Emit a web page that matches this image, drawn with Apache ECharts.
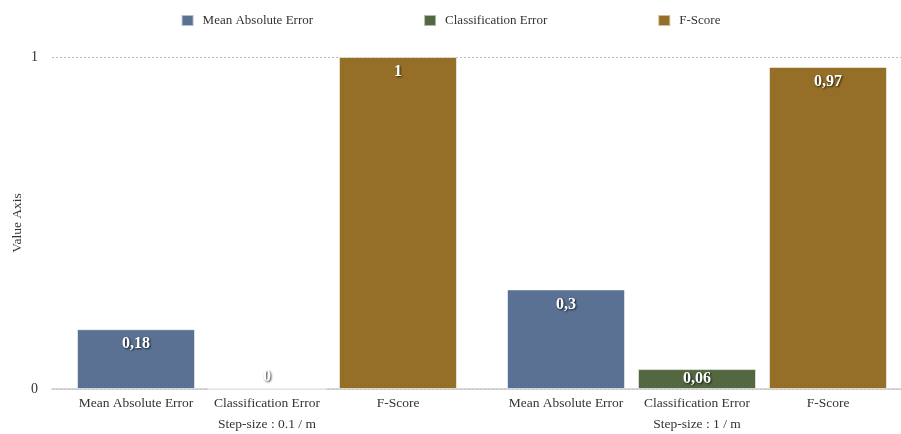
<!DOCTYPE html>
<html>
<head>
<meta charset="utf-8">
<script src="https://cdn.jsdelivr.net/npm/echarts@6/dist/echarts.min.js"></script>
<style>
  html, body { margin: 0; padding: 0; background: #fff; }
  #chart { width: 901px; height: 434px; }
</style>
</head>
<body>
<div id="chart"></div>
<script>
// Groups along the x axis and the three metrics measured in each group
const groups = ['Step-size : 0.1 / m', 'Step-size : 1 / m'];
const metrics = ['Mean Absolute Error', 'Classification Error', 'F-Score'];

// Metric values per group
const meanAbsoluteError = [0.18, 0.3];
const classificationError = [0, 0.06];
const fScore = [1, 0.97];

// Value axis ticks
const yTicks = [0, 1];

const colors = ['#5a7194', '#536841', '#956f28'];
const seriesValues = [meanAbsoluteError, classificationError, fScore];
const FONT = '"Liberation Serif", "DejaVu Serif", serif';

// Decimal comma formatting
const fmt = v => String(v).replace('.', ',');

const valueLabel = {
  show: true,
  position: 'insideTop',
  distance: 7,
  color: '#fff',
  fontFamily: FONT,
  fontWeight: 'bold',
  fontSize: 16,
  textShadowColor: 'rgba(0,0,0,0.75)',
  textShadowBlur: 2,
  textShadowOffsetX: 1,
  textShadowOffsetY: 1,
  formatter: p => fmt(p.value)
};

// Zero bars carry their label above the base; short bars centre it
function barItem(v) {
  if (v === 0) return { value: v, label: { position: 'top', distance: 4 } };
  if (v < 0.1) return { value: v, label: { position: 'inside' } };
  return v;
}

const series = metrics.map((name, i) => ({
  name: name,
  type: 'bar',
  barWidth: 118,
  barGap: '11%',
  itemStyle: { color: colors[i], borderColor: 'rgba(255,255,255,0.55)', borderWidth: 1 },
  label: valueLabel,
  data: seriesValues[i].map(barItem)
}));

// Category label: the three metric names under their bars, then the group name
const rich = { g: { width: 393, align: 'center', fontSize: 13.5, fontFamily: FONT, color: '#333', lineHeight: 21 } };
metrics.forEach((m, i) => {
  rich['m' + i] = { width: 131, align: 'center', fontSize: 13.5, fontFamily: FONT, color: '#333', lineHeight: 21 };
});

const chart = echarts.init(document.getElementById('chart'));
chart.setOption({
  animation: false,
  color: colors,
  textStyle: { fontFamily: FONT },
  legend: {
    top: 9,
    left: 'center',
    itemWidth: 12,
    itemHeight: 11,
    itemGap: 110,
    icon: 'rect',
    textStyle: { fontFamily: FONT, fontSize: 13, color: '#333', padding: [0, 0, 0, 4] },
    data: metrics
  },
  // The plot runs slightly past the right edge so the second group sits flush
  grid: { left: 52, width: 860, top: 57, bottom: 45, outerBoundsMode: 'none', containLabel: false },
  xAxis: {
    type: 'category',
    data: groups,
    axisLine: { lineStyle: { color: '#ccc', width: 1.5 } },
    axisTick: { show: false },
    axisLabel: {
      margin: 4,
      interval: 0,
      formatter: g => metrics.map((m, i) => '{m' + i + '|' + m + '}').join('') + '\n{g|' + g + '}',
      rich: rich
    }
  },
  yAxis: {
    type: 'value',
    min: yTicks[0],
    max: yTicks[yTicks.length - 1],
    interval: yTicks[1] - yTicks[0],
    name: 'Value Axis',
    nameLocation: 'middle',
    nameGap: 28,
    nameMoveOverlap: false,
    nameTextStyle: { fontFamily: FONT, fontSize: 13.5, color: '#333' },
    axisLine: { show: false },
    axisTick: { show: false },
    axisLabel: { margin: 14, fontFamily: FONT, fontSize: 14, color: '#333', formatter: v => fmt(v) },
    splitLine: { lineStyle: { type: [2, 2], color: '#bbb', width: 1 } }
  },
  series: series
});
</script>
</body>
</html>
